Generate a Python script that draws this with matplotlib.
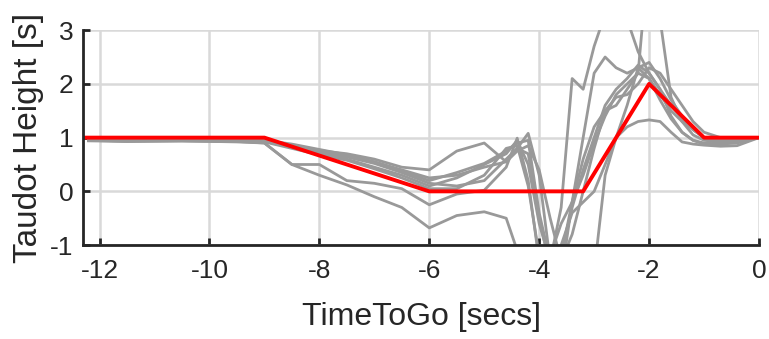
import numpy as np
import matplotlib
matplotlib.use('Agg')
import matplotlib.pyplot as plt

plt.rcParams['font.family'] = ['Liberation Sans', 'DejaVu Sans']
plt.rcParams['axes.unicode_minus'] = False

# Reference (red) profile
ref_t = [-12.3, -9.0, -6.0, -3.2, -2.0, -1.0, 0.0]
ref_y = [1.0, 1.0, 0.0, 0.0, 2.0, 1.0, 1.0]

# Common time grid for the recorded runs (gray)
t = [-12.2, -11.5, -10.5, -9.5, -9.0, -8.5, -8.0, -7.5, -7.0, -6.5, -6.0, -5.5,
     -5.0, -4.6, -4.4, -4.2, -4.0, -3.8, -3.6, -3.4, -3.2, -3.0, -2.8, -2.6,
     -2.4, -2.2, -2.0, -1.8, -1.6, -1.4, -1.2, -1.0, -0.7, -0.4, 0.0]

run1 = [0.97, 0.96, 0.97, 0.96, 0.95, 0.86, 0.76, 0.70, 0.60, 0.45, 0.40, 0.75,
        0.90, 0.55, 0.80, 1.08, 0.30, -1.3, -1.6, -0.2, 1.0, 2.2, 2.5, 2.3,
        2.2, 2.3, 2.1, 1.8, 1.5, 1.3, 1.15, 1.0, 0.95, 0.95, 1.0]
run2 = [0.95, 0.94, 0.95, 0.94, 0.93, 0.85, 0.74, 0.66, 0.55, 0.38, 0.20, 0.35,
        0.52, 0.75, 0.90, 0.95, -0.4, -1.3, -0.3, 2.1, 1.9, 2.7, 3.3, 3.5,
        3.2, 2.6, 2.2, 1.9, 1.6, 1.35, 1.15, 1.0, 0.95, 0.97, 1.0]
run3 = [0.96, 0.95, 0.96, 0.95, 0.94, 0.84, 0.72, 0.64, 0.52, 0.35, 0.15, 0.10,
        0.20, 0.60, 0.80, 0.70, -0.5, -1.4, -1.2, -0.2, 0.6, 1.2, 1.5, 1.6,
        1.9, 2.2, 4.5, 3.2, 1.75, 1.3, 1.05, 0.95, 0.92, 0.95, 1.0]
run4 = [0.94, 0.93, 0.94, 0.93, 0.92, 0.80, 0.68, 0.58, 0.42, 0.25, 0.05, 0.05,
        0.30, 0.80, 0.85, 0.10, -1.2, -1.6, -1.0, -0.4, -0.2, 0.0, 0.5, 1.0,
        1.2, 1.3, 1.33, 1.3, 1.1, 0.92, 0.88, 0.86, 0.84, 0.85, 1.0]
run5 = [0.95, 0.93, 0.94, 0.92, 0.90, 0.50, 0.30, 0.12, -0.10, -0.30, -0.68, -0.45,
        -0.38, -0.50, -1.1, -1.8, -1.5, -1.2, -0.6, -0.2, 0.3, 0.9, 1.4, 1.8,
        2.0, 2.2, 2.1, 1.7, 1.35, 1.1, 0.95, 0.88, 0.90, 0.95, 1.0]
run6 = [0.96, 0.95, 0.95, 0.94, 0.93, 0.83, 0.70, 0.60, 0.45, 0.30, 0.10, 0.25,
        0.50, 0.70, 0.95, 0.50, -0.6, -1.3, -1.6, -1.6, -1.4, -1.5, 0.3, 1.0,
        1.6, 2.3, 2.4, 2.1, 1.7, 1.4, 1.15, 1.0, 0.95, 0.96, 1.0]
run7 = [0.97, 0.96, 0.96, 0.96, 0.95, 0.88, 0.78, 0.68, 0.55, 0.40, 0.25, 0.30,
        0.45, 0.55, 0.75, 0.85, 0.40, -0.5, -1.3, -0.8, 0.0, 0.8, 1.5, 1.75,
        1.8, 2.0, 2.3, 2.2, 1.9, 1.6, 1.3, 1.1, 1.0, 0.98, 1.0]
run8 = [0.95, 0.94, 0.94, 0.93, 0.90, 0.50, 0.50, 0.20, 0.15, 0.05, -0.25, -0.05,
        0.02, 0.45, 0.99, 0.20, -1.3, -1.8, -1.2, -0.3, 0.4, 1.0, 1.6, 1.9,
        2.1, 2.35, 2.2, 1.9, 1.4, 1.1, 0.95, 0.90, 0.88, 0.90, 1.0]
runs = [run1, run2, run3, run4, run5, run6, run7, run8]

fig = plt.figure(figsize=(7.69, 3.39), dpi=100)
ax = fig.add_axes([0.108, 0.277, 0.879, 0.634])

for r in runs:
    ax.plot(t, r, color='#999999', lw=2.0, solid_joinstyle='round')
ax.plot(ref_t, ref_y, color='#ff0000', lw=2.8)

ax.set_xlim(-12.3, 0)
ax.set_ylim(-1, 3)
ax.set_xticks([-12, -10, -8, -6, -4, -2, 0])
ax.set_yticks([-1, 0, 1, 2, 3])
ax.grid(True, color='#d9d9d9', lw=1.8)
ax.set_axisbelow(True)
for s in ['top', 'right']:
    ax.spines[s].set_visible(False)
for s in ['left', 'bottom']:
    ax.spines[s].set_color('#262626')
    ax.spines[s].set_linewidth(2.0)
ax.tick_params(direction='in', length=5, width=2.0, colors='#262626',
               labelsize=19)
ax.tick_params(axis='x', pad=10)
ax.tick_params(axis='y', pad=7)
ax.set_xlabel('TimeToGo [secs]', fontsize=23, color='#262626', labelpad=14)
ax.set_ylabel('Taudot Height [s]', fontsize=24, color='#262626', labelpad=4)

fig.savefig('out.png', dpi=100)
